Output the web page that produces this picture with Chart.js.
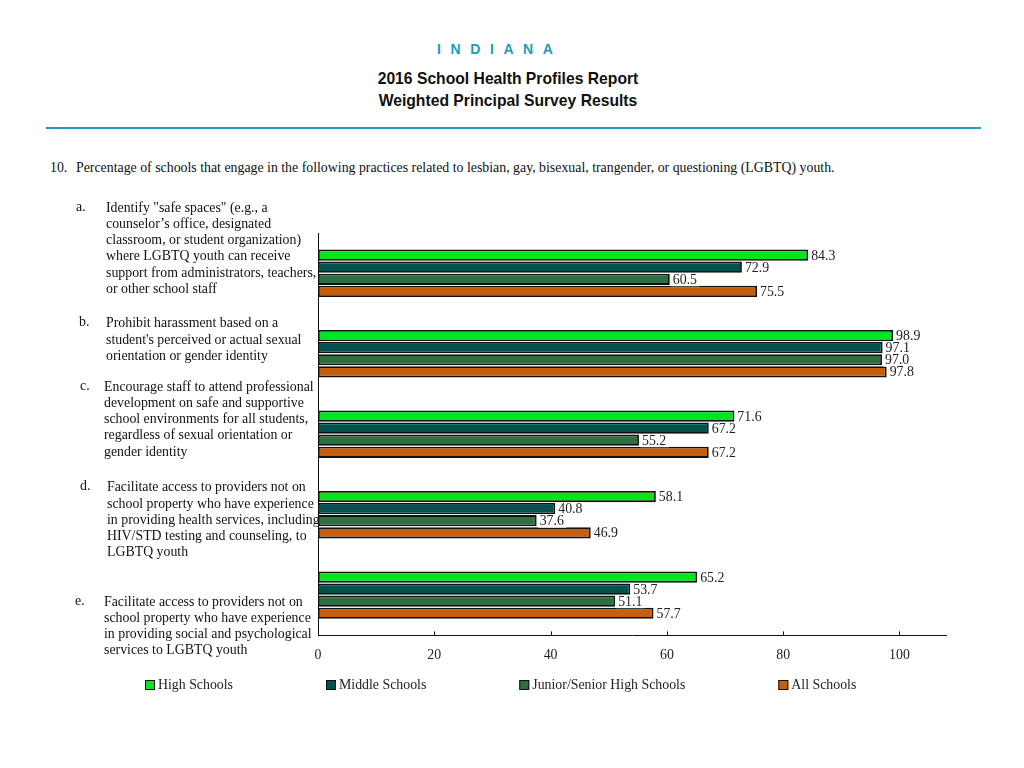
<!DOCTYPE html>
<html>
<head>
<meta charset="utf-8">
<script src="https://cdn.jsdelivr.net/npm/chart.js@4/dist/chart.umd.min.js"></script>
<style>
    body { margin: 0; background: #fff; width: 1024px; height: 768px; position: relative; overflow: hidden; }
    .state { position: absolute; top: 41px; left: 437px; font: bold 14px "Liberation Sans", Arial, sans-serif; color: #1b9db3; letter-spacing: 9.6px; }
    .title { position: absolute; left: -4px; width: 1024px; text-align: center; font: bold 15.7px "Liberation Sans", Arial, sans-serif; color: #111; }
    .rule { position: absolute; top: 127px; left: 46px; width: 935px; height: 2px; background: #1b9db3; }
    .question { position: absolute; top: 160px; left: 50px; font: 13.85px "Liberation Serif", serif; color: #111; }
    .question span { display: inline-block; width: 26px; }
    #chartWrap { position: absolute; left: 0; top: 0; width: 1024px; height: 768px; }
</style>
</head>
<body>
<div class="state">INDIANA</div>
<div class="title" style="top:70px">2016 School Health Profiles Report</div>
<div class="title" style="top:92px">Weighted Principal Survey Results</div>
<div class="rule"></div>
<div class="question"><span>10.</span>Percentage of schools that engage in the following practices related to lesbian, gay, bisexual, trangender, or questioning (LGBTQ) youth.</div>
<div id="chartWrap"><canvas id="chart" width="1024" height="768"></canvas></div>

<script>
// данные
const letters = ['a.', 'b.', 'c.', 'd.', 'e.'];
const categories = [
    ['Identify "safe spaces" (e.g., a', 'counselor\u2019s office, designated', 'classroom, or student organization)', 'where LGBTQ youth can receive', 'support from administrators, teachers,', 'or other school staff'],
    ['Prohibit harassment based on a', 'student\'s perceived or actual sexual', 'orientation or gender identity'],
    ['Encourage staff to attend professional', 'development on safe and supportive', 'school environments for all students,', 'regardless of sexual orientation or', 'gender identity'],
    ['Facilitate access to providers not on', 'school property who have experience', 'in providing health services, including', 'HIV/STD testing and counseling, to', 'LGBTQ youth'],
    ['Facilitate access to providers not on', 'school property who have experience', 'in providing social and psychological', 'services to LGBTQ youth']
];
const seriesNames = ['High Schools', 'Middle Schools', 'Junior/Senior High Schools', 'All Schools'];
const highSchools = [84.3, 98.9, 71.6, 58.1, 65.2];
const middleSchools = [72.9, 97.1, 67.2, 40.8, 53.7];
const juniorSenior = [60.5, 97.0, 55.2, 37.6, 51.1];
const allSchools = [75.5, 97.8, 67.2, 46.9, 57.7];
const xTicks = [0, 20, 40, 60, 80, 100];

const colors = ['#03e51d', '#00524f', '#2d6f3f', '#c65f0d'];
const SERIF = '"Liberation Serif", "DejaVu Serif", serif';
const FONT = '13.85px ' + SERIF;

// подписи категорий слева: сдвиг первой строки от центра категории
const labelLayout = [
    { dy: -65, lx: 76, tx: 106 },
    { dy: -30, lx: 79, tx: 106 },
    { dy: -47, lx: 80, tx: 104 },
    { dy: -27, lx: 80, tx: 107 },
    { dy: 7, lx: 75, tx: 104 }
];

const categoryLabels = {
    id: 'categoryLabels',
    afterDraw(chart) {
        const ctx = chart.ctx;
        const y = chart.scales.y;
        ctx.save();
        ctx.font = FONT;
        ctx.fillStyle = '#111';
        ctx.textBaseline = 'middle';
        ctx.textAlign = 'left';
        categories.forEach((lines, i) => {
            const lay = labelLayout[i];
            const top = y.getPixelForValue(i) + lay.dy;
            ctx.fillText(letters[i], lay.lx, top - 1);
            lines.forEach((line, j) => ctx.fillText(line, lay.tx, top + j * 16.2));
        });
        ctx.restore();
    }
};

const valueLabels = {
    id: 'valueLabels',
    afterDatasetsDraw(chart) {
        const ctx = chart.ctx;
        ctx.save();
        ctx.font = FONT;
        ctx.textBaseline = 'middle';
        ctx.textAlign = 'left';
        chart.data.datasets.forEach((ds, di) => {
            chart.getDatasetMeta(di).data.forEach((bar, i) => {
                const txt = ds.data[i].toFixed(1);
                const w = ctx.measureText(txt).width;
                ctx.fillStyle = '#fff';
                ctx.fillRect(bar.x + 1.5, bar.y - 6, w + 4, 13);
                ctx.fillStyle = '#222';
                ctx.fillText(txt, bar.x + 3, bar.y + 1);
            });
        });
        ctx.restore();
    }
};

const innerTicks = {
    id: 'innerTicks',
    afterDraw(chart) {
        const ctx = chart.ctx;
        const x = chart.scales.x;
        const bottom = chart.chartArea.bottom;
        ctx.save();
        ctx.strokeStyle = '#111';
        ctx.lineWidth = 1;
        xTicks.forEach(v => {
            const px = Math.round(x.getPixelForValue(v)) + 0.5;
            ctx.beginPath();
            ctx.moveTo(px, bottom);
            ctx.lineTo(px, bottom - 4);
            ctx.stroke();
        });
        ctx.restore();
    }
};

const bottomLegend = {
    id: 'bottomLegend',
    afterDraw(chart) {
        const ctx = chart.ctx;
        ctx.save();
        ctx.font = FONT;
        ctx.textBaseline = 'middle';
        let x = 145;
        const y = 685;
        chart.data.datasets.forEach(ds => {
            ctx.fillStyle = ds.backgroundColor;
            ctx.fillRect(x, y - 5, 10, 10);
            ctx.strokeStyle = '#111';
            ctx.lineWidth = 1;
            ctx.strokeRect(x + 0.5, y - 4.5, 9, 9);
            ctx.fillStyle = '#222';
            ctx.fillText(ds.label, x + 13, y);
            x += 13 + ctx.measureText(ds.label).width + 93;
        });
        ctx.restore();
    }
};

const seriesData = [highSchools, middleSchools, juniorSenior, allSchools];

new Chart(document.getElementById('chart'), {
    type: 'bar',
    data: {
        labels: categories,
        datasets: seriesData.map((d, i) => ({
            label: seriesNames[i],
            data: d,
            backgroundColor: colors[i],
            borderColor: '#111',
            borderWidth: 1.8,
            borderSkipped: false,
            categoryPercentage: 0.6,
            barPercentage: 0.93
        }))
    },
    options: {
        indexAxis: 'y',
        responsive: false,
        animation: false,
        layout: { padding: { left: 318, top: 233, right: 78, bottom: 92 } },
        plugins: { legend: { display: false }, tooltip: { enabled: false } },
        scales: {
            x: {
                min: 0, max: 108,
                grid: { display: false, drawTicks: false },
                border: { display: true, color: '#111', width: 1 },
                ticks: {
                    stepSize: 20, includeBounds: false, padding: 12,
                    color: '#222', font: { family: SERIF, size: 13.85 },
                    callback: v => xTicks.includes(v) ? v : ''
                }
            },
            y: {
                grid: { display: false, drawTicks: false },
                border: { display: true, color: '#111', width: 1 },
                ticks: { display: false }
            }
        }
    },
    plugins: [categoryLabels, valueLabels, innerTicks, bottomLegend]
});
</script>
</body>
</html>
